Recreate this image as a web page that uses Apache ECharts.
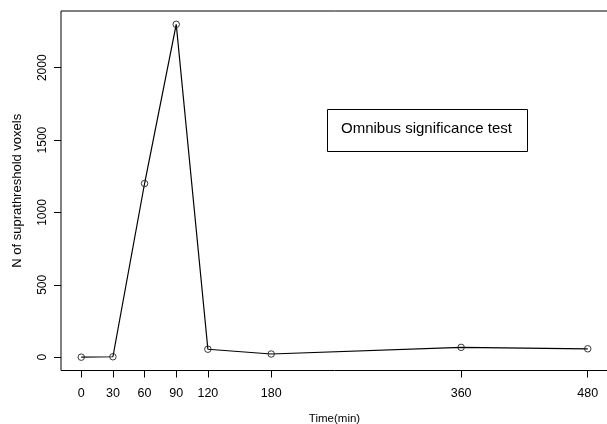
<!DOCTYPE html>
<html>
<head>
<meta charset="utf-8">
<script src="https://cdn.jsdelivr.net/npm/echarts@6/dist/echarts.min.js"></script>
<style>
  html, body { margin: 0; padding: 0; background: #fff; }
  #chart { width: 607px; height: 424px; }
</style>
</head>
<body>
<div id="chart"></div>
<script>
// time points (min) and counts
const times = [0, 30, 60, 90, 120, 180, 360, 480]
const voxels = [0, 3, 1200, 2300, 55, 22, 68, 58]
const xTicks = [0, 30, 60, 90, 120, 180, 360, 480]
const yTicks = [0, 500, 1000, 1500, 2000]

const mChart = echarts.init(document.getElementById('chart'))

const font = 'Liberation Sans, Arial, sans-serif'

const options = {
    animation: false,
    grid: {
        show: true,
        left: 61,
        top: 11,
        width: 547,
        height: 359.5,
        borderColor: '#000',
        borderWidth: 1,
        outerBoundsMode: 'none'
    },
    xAxis: {
        type: 'value',
        min: -19.2,
        max: 499.2,
        name: 'Time(min)',
        nameLocation: 'middle',
        nameGap: 42,
        nameTextStyle: { color: '#000', fontSize: 11.5, fontFamily: font },
        axisLine: { show: false, onZero: false },
        splitLine: { show: false },
        axisTick: {
            show: true,
            length: 7,
            customValues: xTicks,
            lineStyle: { color: '#000', width: 1 }
        },
        axisLabel: {
            customValues: xTicks,
            margin: 17,
            color: '#000',
            fontSize: 12.5,
            fontFamily: font,
            formatter: (v) => String(v)
        }
    },
    yAxis: {
        type: 'value',
        min: -92,
        max: 2392,
        name: 'N of suprathreshold voxels',
        nameLocation: 'middle',
        nameRotate: 90,
        nameGap: 37,
        nameTextStyle: { color: '#000', fontSize: 13, fontFamily: font },
        axisLine: { show: false, onZero: false },
        splitLine: { show: false },
        axisTick: {
            show: true,
            length: 7,
            customValues: yTicks,
            lineStyle: { color: '#000', width: 1 }
        },
        axisLabel: {
            customValues: yTicks,
            rotate: 90,
            margin: 12,
            color: '#000',
            fontSize: 12,
            fontFamily: font,
            formatter: (v) => String(v)
        }
    },
    // legend-like box
    graphic: [
        {
            type: 'rect',
            left: 327,
            top: 109,
            shape: { width: 200, height: 42 },
            style: { fill: '#fff', stroke: '#000', lineWidth: 1 }
        },
        {
            type: 'text',
            left: 341,
            top: 121,
            style: {
                text: 'Omnibus significance test',
                fill: '#000',
                font: '15px ' + font
            }
        }
    ],
    series: [
        {
            type: 'line',
            data: times.map((t, i) => [t, voxels[i]]),
            symbol: 'circle',
            symbolSize: 6.5,
            showSymbol: true,
            lineStyle: { color: '#000', width: 1.2 },
            itemStyle: { color: 'rgba(0,0,0,0)', borderColor: '#222', borderWidth: 0.9 },
            silent: true
        }
    ]
}

mChart.setOption(options)
</script>
</body>
</html>
